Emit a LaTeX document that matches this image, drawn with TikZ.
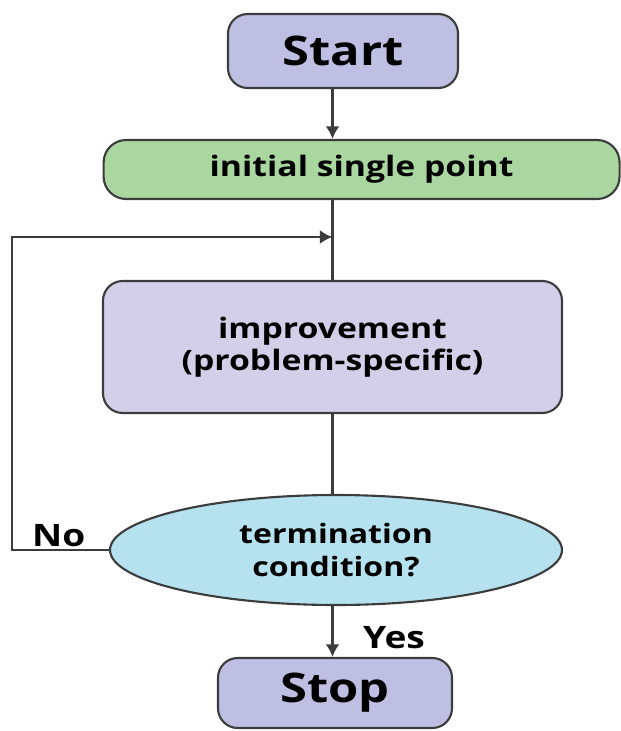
\documentclass[tikz,border=0pt]{standalone}
\usepackage{fontspec}
\setmainfont{Open Sans}[FakeStretch=1.2]
\usetikzlibrary{arrows,arrows.meta,positioning,shapes}

\definecolor{termfill}{RGB}{190,191,227}
\definecolor{initfill}{RGB}{170,214,160}
\definecolor{stepfill}{RGB}{212,207,233}
\definecolor{condfill}{RGB}{181,226,238}
\definecolor{edge}{RGB}{60,60,60}

\tikzset{
  flow/.style={draw=edge,line width=1.5pt},
  link/.style={draw=edge,line width=1.8pt},
  terminal/.style={flow,rounded corners=14pt,fill=termfill,minimum width=5.75cm,minimum height=1.85cm,font=\fontsize{29}{29}\bfseries},
  stepbox/.style={flow,rounded corners=14pt,minimum width=11.475cm,minimum height=3.3cm,fill=stepfill,align=center,font=\fontsize{20}{23}\bfseries},
}

\begin{document}
\begin{tikzpicture}[>={Latex[length=9pt,width=10pt]}]
\useasboundingbox (0,0) rectangle (15.5,-18.275);
\node[terminal] (start) at (8.575,-1.275) {Start};
\node[flow,rounded corners=16pt,fill=initfill,minimum width=12.9cm,minimum height=1.475cm,font=\fontsize{20}{20}\bfseries] (init) at (9.04,-4.2375) {initial single point};
\node[stepbox] (improve) at (8.3125,-8.675) {improvement\\(problem-specific)};
\node[flow,ellipse,fill=condfill,minimum width=11.3cm,minimum height=2.75cm,align=center,inner sep=0pt,font=\fontsize{19}{23}\bfseries] (cond) at (8.4,-13.75) {termination\\condition?};
\node[terminal,minimum width=5.85cm,minimum height=1.75cm] (stop) at (8.375,-17.325) {Stop};
\coordinate (back) at (8.3125,-5.925);
\coordinate (left) at (0.3,-5.925);
% connectors
\draw[link,->] (start.south -| improve.north) -- (init.north -| improve.north);
\draw[link] (init.south -| improve.north) -- (improve.north);
\draw[link] (improve.south) -- (cond.north -| improve.south);
\draw[link,->] (cond.south -| improve.south) -- (stop.north -| improve.south);
\draw[link,->] (cond.west) -- (cond.west -| left) -- (left) -- (back);
\node[font=\fontsize{22}{22}\bfseries] (no) at (1.47,-13.4) {No};
\node[font=\fontsize{22}{22}\bfseries] (yes) at (9.85,-15.95) {Yes};
\end{tikzpicture}
\end{document}
